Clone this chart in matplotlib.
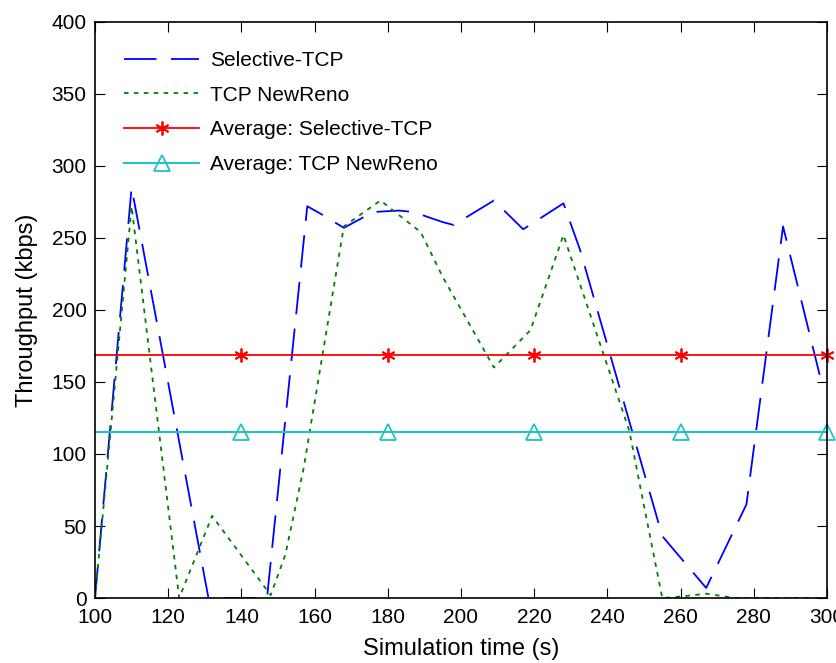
import numpy as np
import matplotlib
matplotlib.use("Agg")
import matplotlib.pyplot as plt

plt.rcParams['font.family'] = ['Liberation Sans', 'DejaVu Sans']

# Selective-TCP throughput (kbps)
sel_t = [100, 110, 131, 147, 158, 161.5, 168, 176, 183, 187, 195, 198, 209, 217,
         228, 232.5, 255, 267, 278, 288, 298]
sel_v = [0, 285, 0, 0, 272, 267, 257, 268, 269, 268, 261, 259, 276, 256,
         274, 242, 43, 7, 65, 258, 155]

# TCP NewReno throughput (kbps)
reno_t = [100, 110, 123, 132, 148, 152, 157, 168, 178, 189, 195, 209, 219,
          228, 246, 249, 255, 260, 267, 275, 300]
reno_v = [0, 272, 0, 57, 2, 30, 90, 258, 276, 254, 223, 160, 186,
          252, 116, 77, 0, 1, 3, 0, 0]

# averages
avg_t = [100, 140, 180, 220, 260, 300]
avg_sel = 169
avg_reno = 115

fig = plt.figure(figsize=(8.37, 6.63), dpi=100)
ax = fig.add_axes([0.1135, 0.098, 0.8745, 0.869])

ax.plot(sel_t, sel_v, color='#0000ff', lw=1.3, dashes=(18, 8),
        label='Selective-TCP')
ax.plot(reno_t, reno_v, color='#008000', lw=1.3, dashes=(2.5, 3),
        label='TCP NewReno')
ax.plot(avg_t, [avg_sel] * len(avg_t), color='#ff0000', lw=1.3,
        marker=(6, 2, 0), markersize=10, markeredgewidth=1.3,
        markevery=[1, 2, 3, 4, 5], clip_on=False,
        label='Average: Selective-TCP')
ax.plot(avg_t, [avg_reno] * len(avg_t), color='#22c3c3', lw=1.5,
        marker='^', markersize=11, markerfacecolor='none', markeredgewidth=1.3,
        markevery=[1, 2, 3, 4, 5], clip_on=False,
        label='Average: TCP NewReno')

ax.set_xlim(100, 300)
ax.set_ylim(0, 400)
ax.set_xticks(np.arange(100, 301, 20))
ax.set_yticks(np.arange(0, 401, 50))
ax.tick_params(direction='in', top=True, right=True, labelsize=15, length=7)
ax.tick_params(axis='x', pad=7)
ax.tick_params(axis='y', pad=6)
for s in ax.spines.values():
    s.set_linewidth(1.2)

ax.set_xlabel('Simulation time (s)', fontsize=17, labelpad=8)
ax.set_ylabel('Throughput (kbps)', fontsize=17, labelpad=10)

leg = ax.legend(loc='upper left', frameon=False, fontsize=15, handlelength=3.6,
                labelspacing=0.75, borderaxespad=1.0, handletextpad=0.5)

fig.savefig('out.png', dpi=100)
